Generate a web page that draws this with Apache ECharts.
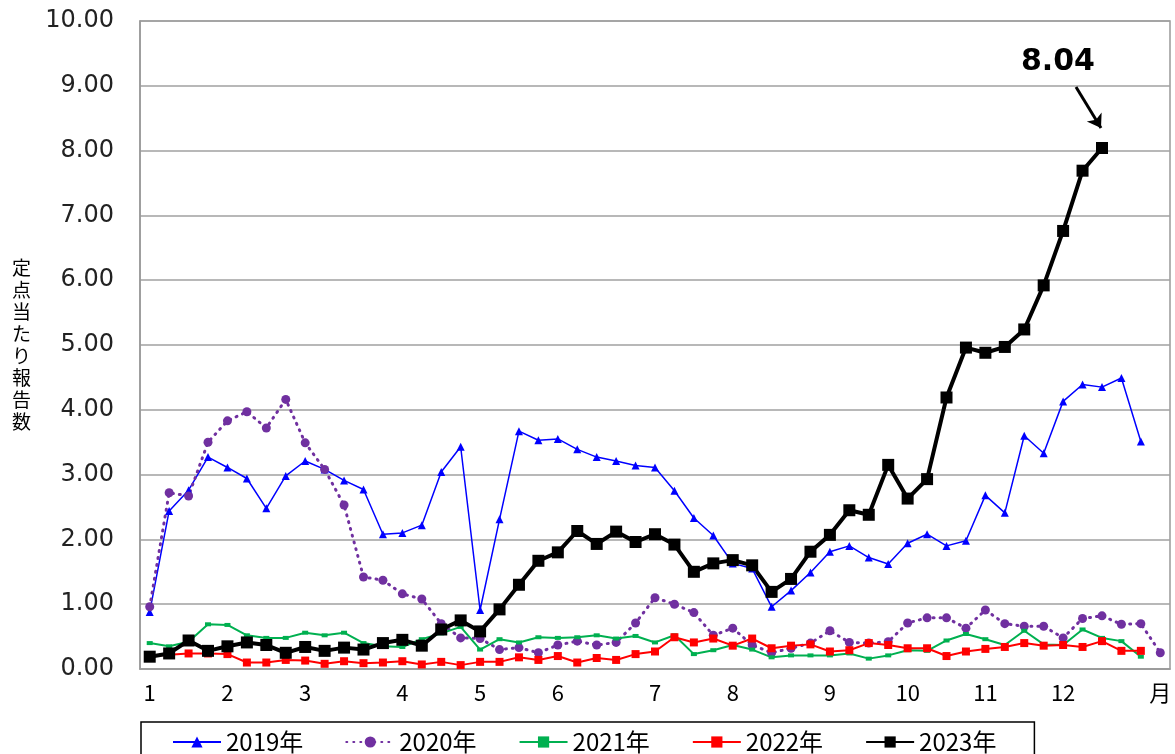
<!DOCTYPE html>
<html>
<head>
<meta charset="utf-8">
<script src="https://cdn.jsdelivr.net/npm/echarts@6/dist/echarts.min.js"></script>
<style>
  html, body { margin: 0; padding: 0; background: #fff; }
  #chart-main { width: 1175px; height: 754px; }
</style>
</head>
<body>
<div id="chart-main"></div>
<script>
// 週番号（1〜53週）
var weeks = ['1','2','3','4','5','6','7','8','9','10','11','12','13','14','15','16','17','18','19','20',
  '21','22','23','24','25','26','27','28','29','30','31','32','33','34','35','36','37','38','39','40',
  '41','42','43','44','45','46','47','48','49','50','51','52','53'];
// 月の目盛り：ラベルを出す週と文字
var monthWeeks = ['1','5','9','14','18','22','27','31','36','40','44','48','53'];
var monthTexts = ['1','2','3','4','5','6','7','8','9','10','11','12','月'];
var yTicks = [0, 1, 2, 3, 4, 5, 6, 7, 8, 9, 10];

var y2019 = [0.88, 2.44, 2.76, 3.27, 3.11, 2.94, 2.48, 2.98, 3.21, 3.08, 2.91, 2.77, 2.08, 2.10, 2.22, 3.04, 3.43, 0.91, 2.31, 3.67,
  3.53, 3.55, 3.39, 3.27, 3.21, 3.14, 3.11, 2.75, 2.33, 2.06, 1.63, 1.55, 0.96, 1.21, 1.49, 1.81, 1.90, 1.72, 1.62, 1.94,
  2.08, 1.90, 1.98, 2.68, 2.41, 3.60, 3.33, 4.13, 4.39, 4.35, 4.49, 3.51];
var y2020 = [0.96, 2.72, 2.67, 3.50, 3.83, 3.97, 3.72, 4.16, 3.49, 3.08, 2.53, 1.42, 1.37, 1.16, 1.08, 0.70, 0.48, 0.47, 0.30, 0.33,
  0.25, 0.37, 0.43, 0.37, 0.41, 0.71, 1.10, 1.00, 0.87, 0.52, 0.63, 0.37, 0.25, 0.32, 0.40, 0.59, 0.41, 0.40, 0.42, 0.71,
  0.79, 0.79, 0.63, 0.91, 0.70, 0.66, 0.66, 0.48, 0.78, 0.82, 0.69, 0.70, 0.25];
var y2021 = [0.40, 0.35, 0.42, 0.69, 0.68, 0.52, 0.48, 0.48, 0.56, 0.52, 0.56, 0.40, 0.35, 0.34, 0.46, 0.55, 0.65, 0.30, 0.46, 0.41,
  0.49, 0.48, 0.49, 0.52, 0.47, 0.51, 0.41, 0.52, 0.23, 0.29, 0.37, 0.30, 0.18, 0.21, 0.21, 0.21, 0.24, 0.16, 0.21, 0.29,
  0.28, 0.44, 0.54, 0.46, 0.37, 0.59, 0.38, 0.37, 0.61, 0.48, 0.43, 0.19];
var y2022 = [0.20, 0.22, 0.24, 0.24, 0.23, 0.10, 0.10, 0.14, 0.13, 0.08, 0.12, 0.09, 0.10, 0.12, 0.07, 0.11, 0.06, 0.11, 0.11, 0.18,
  0.14, 0.20, 0.10, 0.17, 0.14, 0.23, 0.27, 0.49, 0.41, 0.47, 0.36, 0.47, 0.32, 0.36, 0.38, 0.27, 0.29, 0.40, 0.37, 0.32,
  0.32, 0.20, 0.27, 0.31, 0.34, 0.40, 0.36, 0.37, 0.34, 0.43, 0.28, 0.28];
var y2023 = [0.19, 0.24, 0.44, 0.28, 0.35, 0.41, 0.37, 0.25, 0.34, 0.28, 0.33, 0.30, 0.40, 0.45, 0.36, 0.61, 0.75, 0.58, 0.92, 1.30,
  1.67, 1.80, 2.13, 1.93, 2.12, 1.96, 2.08, 1.92, 1.50, 1.63, 1.68, 1.60, 1.19, 1.39, 1.81, 2.07, 2.45, 2.38, 3.15, 2.63,
  2.93, 4.19, 4.96, 4.88, 4.97, 5.24, 5.92, 6.76, 7.69, 8.04];

var font = '"DejaVu Sans", "Noto Sans CJK JP", sans-serif';
var cjk = '"Noto Sans CJK JP", sans-serif';

var myChart = echarts.init(document.getElementById('chart-main'));
var option = {
    animation: false,
    backgroundColor: '#fff',
    grid: {
        left: 140,
        right: 5,
        top: 21,
        bottom: 85,
        show: true,
        borderColor: '#999',
        borderWidth: 1.5
    },
    legend: {
        left: 141,
        top: 722,
        padding: [8, 38, 30, 31],
        borderColor: '#000',
        borderWidth: 1.5,
        itemWidth: 48,
        itemHeight: 14,
        itemGap: 42,
        textStyle: { color: '#000', fontSize: 24, fontFamily: cjk },
        data: ['2019年', '2020年', '2021年', '2022年', '2023年']
    },
    xAxis: {
        type: 'category',
        data: weeks,
        boundaryGap: true,
        axisLine: { show: true, lineStyle: { color: '#999', width: 1.5 } },
        axisTick: { show: false },
        axisLabel: {
            interval: 0,
            margin: 13,
            color: '#000',
            fontSize: 22,
            fontFamily: cjk,
            formatter: function (v) {
                var i = monthWeeks.indexOf(v);
                return i >= 0 ? monthTexts[i] : '';
            }
        },
        splitLine: { show: false }
    },
    yAxis: {
        type: 'value',
        min: yTicks[0],
        max: yTicks[yTicks.length - 1],
        interval: 1,
        name: '定\n点\n当\nた\nり\n報\n告\n数',
        nameLocation: 'middle',
        nameRotate: 0,
        nameGap: 109,
        nameTextStyle: { color: '#000', fontSize: 19, lineHeight: 22, fontFamily: cjk },
        axisLine: { show: true, lineStyle: { color: '#999', width: 1.5 } },
        axisTick: { show: false },
        axisLabel: {
            margin: 26,
            color: '#222',
            fontSize: 24,
            fontFamily: font,
            formatter: function (v) { return v.toFixed(2); }
        },
        splitLine: { show: true, lineStyle: { color: '#a0a0a0', width: 1.5 } }
    },
    series: [{
        name: '2019年',
        type: 'line',
        data: y2019,
        symbol: 'triangle',
        symbolSize: 8,
        color: '#0000ff',
        lineStyle: { color: '#0000ff', width: 1.5 },
        itemStyle: { color: '#0000ff' }
    }, {
        name: '2020年',
        type: 'line',
        data: y2020,
        symbol: 'circle',
        symbolSize: 9,
        color: '#7030a0',
        lineStyle: { color: '#7030a0', width: 3, type: [1, 6], cap: 'round' },
        itemStyle: { color: '#7030a0' }
    }, {
        name: '2021年',
        type: 'line',
        data: y2021,
        symbol: 'rect',
        symbolSize: [6, 4],
        color: '#00b050',
        lineStyle: { color: '#00b050', width: 2 },
        itemStyle: { color: '#00b050' }
    }, {
        name: '2022年',
        type: 'line',
        data: y2022,
        symbol: 'rect',
        symbolSize: 8,
        color: '#ff0000',
        lineStyle: { color: '#ff0000', width: 2 },
        itemStyle: { color: '#ff0000' }
    }, {
        name: '2023年',
        type: 'line',
        data: y2023,
        symbol: 'rect',
        symbolSize: 12,
        color: '#000',
        lineStyle: { color: '#000', width: 4 },
        itemStyle: { color: '#000' },
        markPoint: {
            symbol: 'rect',
            symbolSize: 0,
            data: [{ type: 'max' }],
            label: {
                show: true,
                offset: [-44, -86],
                color: '#000',
                fontSize: 30,
                fontWeight: 'bold',
                fontFamily: font,
                formatter: function (p) { return p.value.toFixed(2); }
            }
        },
        markLine: {
            silent: true,
            symbol: ['none', 'arrow'],
            symbolSize: 13,
            label: { show: false },
            lineStyle: { color: '#000', width: 3, type: 'solid' },
            data: [[{ x: 1076, y: 87 }, { x: 1101, y: 128 }]]
        }
    }]
};
myChart.setOption(option);
</script>
</body>
</html>
